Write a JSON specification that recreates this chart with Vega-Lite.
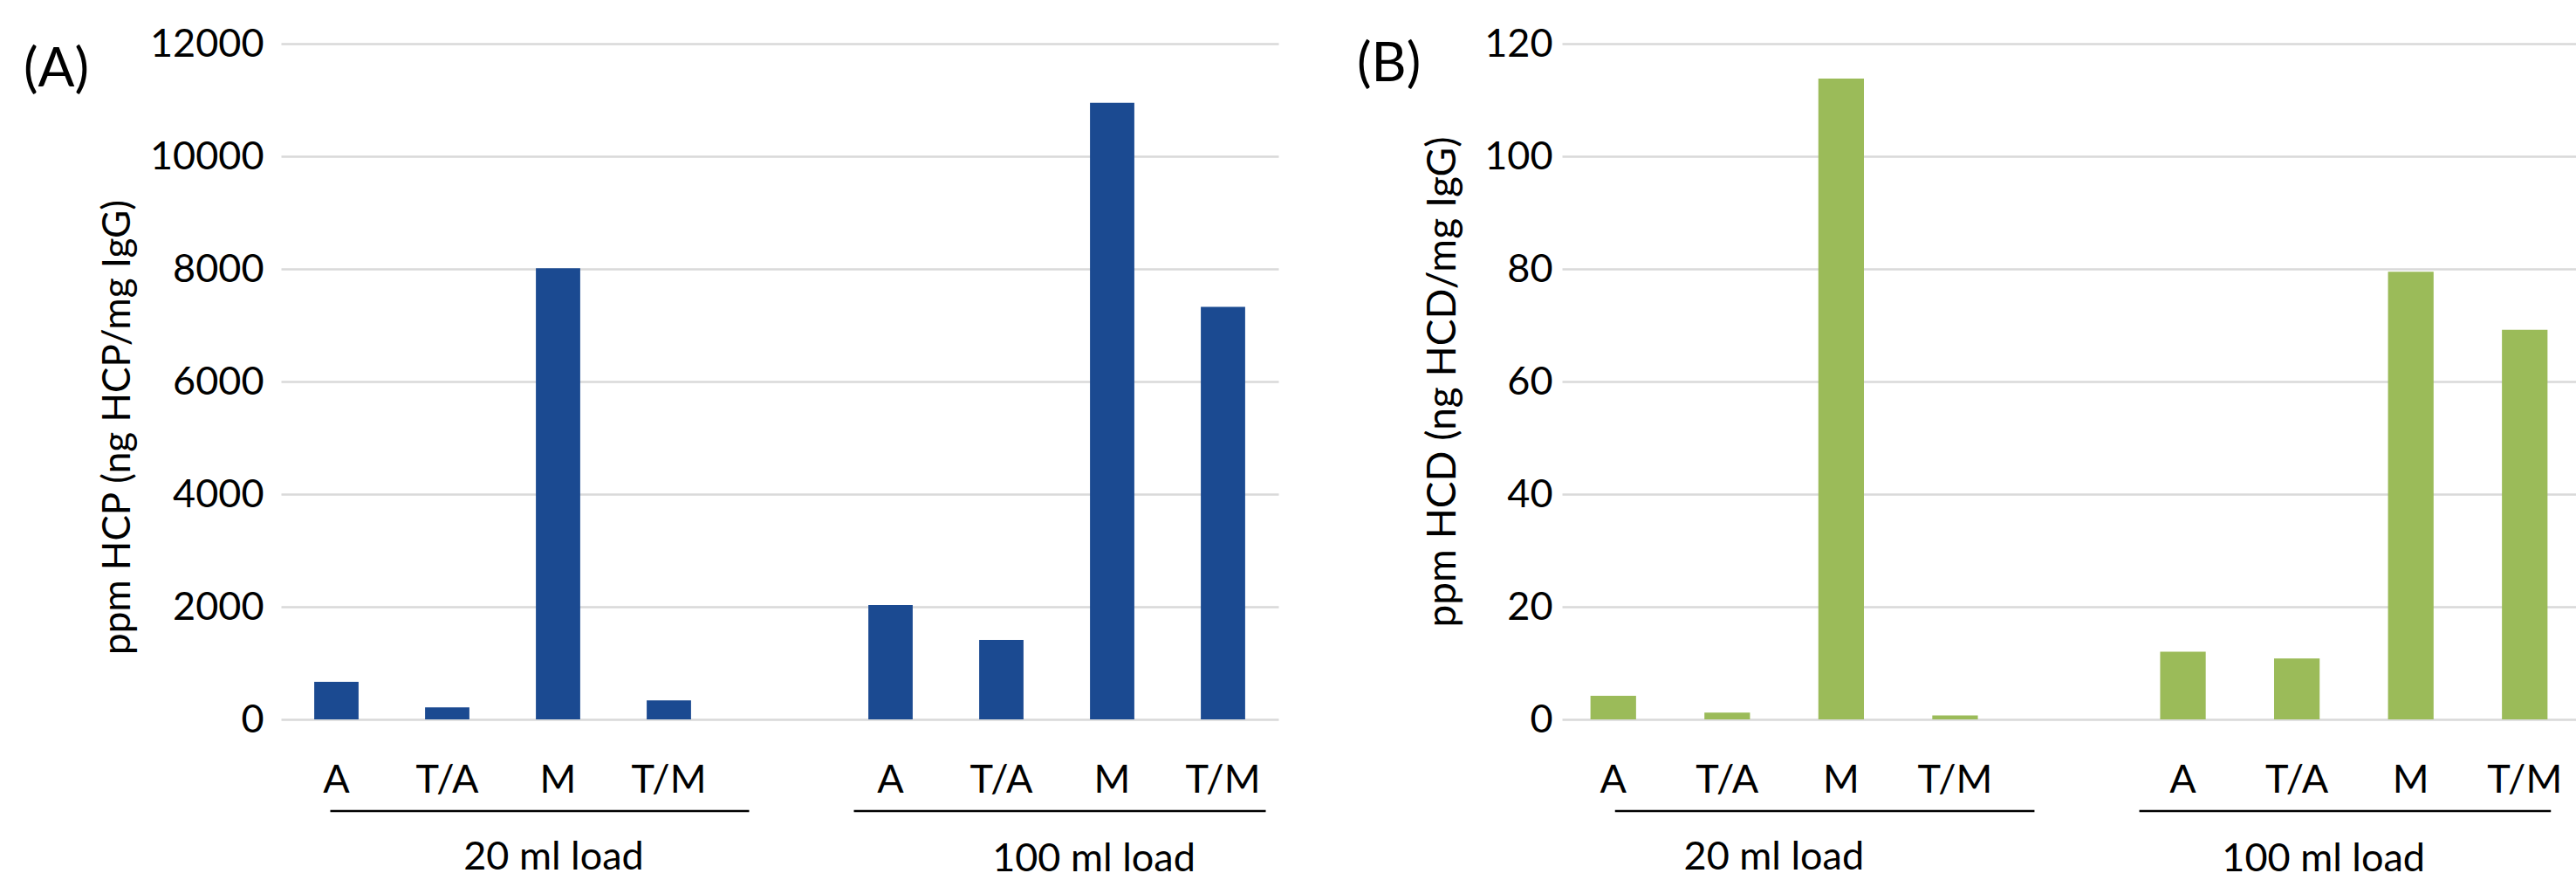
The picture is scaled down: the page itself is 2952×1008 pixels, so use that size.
{
  "$schema": "https://vega.github.io/schema/vega-lite/v6.json",
  "background": "white",
  "padding": {"left": 27, "top": 28, "right": 0, "bottom": 0},
  "config": {
    "font": "Lato",
    "view": {"stroke": null},
    "concat": {"spacing": 90},
    "title": {"fontSize": 62, "fontWeight": "normal", "color": "black", "anchor": "start", "frame": "group", "offset": 0},
    "text": {"color": "black", "fontSize": 45},
    "axisX": {"title": null, "domain": false, "ticks": false, "grid": false, "labelFontSize": 45, "labelPadding": 47, "labelColor": "black", "labelAngle": 0},
    "axisY": {"domain": false, "ticks": false, "grid": true, "gridColor": "#D9D9D9", "gridWidth": 2.5, "labelFontSize": 45, "labelColor": "black", "titleFontSize": 44, "titleFontWeight": "normal", "titleColor": "black"}
  },
  "datasets": {
    "hcp": [
      {"slot": "A|20", "load": "20 ml load", "column": "A", "ppm": 665},
      {"slot": "T/A|20", "load": "20 ml load", "column": "T/A", "ppm": 215},
      {"slot": "M|20", "load": "20 ml load", "column": "M", "ppm": 8010},
      {"slot": "T/M|20", "load": "20 ml load", "column": "T/M", "ppm": 338},
      {"slot": "A|100", "load": "100 ml load", "column": "A", "ppm": 2030},
      {"slot": "T/A|100", "load": "100 ml load", "column": "T/A", "ppm": 1410},
      {"slot": "M|100", "load": "100 ml load", "column": "M", "ppm": 10950},
      {"slot": "T/M|100", "load": "100 ml load", "column": "T/M", "ppm": 7325}
    ],
    "hcd": [
      {"slot": "A|20", "load": "20 ml load", "column": "A", "ppm": 4.2},
      {"slot": "T/A|20", "load": "20 ml load", "column": "T/A", "ppm": 1.2},
      {"slot": "M|20", "load": "20 ml load", "column": "M", "ppm": 113.8},
      {"slot": "T/M|20", "load": "20 ml load", "column": "T/M", "ppm": 0.7},
      {"slot": "A|100", "load": "100 ml load", "column": "A", "ppm": 12.0},
      {"slot": "T/A|100", "load": "100 ml load", "column": "T/A", "ppm": 10.8},
      {"slot": "M|100", "load": "100 ml load", "column": "M", "ppm": 79.5},
      {"slot": "T/M|100", "load": "100 ml load", "column": "T/M", "ppm": 69.2}
    ]
  },
  "hconcat": [
    {
      "width": 1143,
      "height": 774,
      "title": {"text": "(A)", "dx": -295, "dy": 88},
      "layer": [
        {
          "data": {"name": "hcp"},
          "mark": {"type": "bar", "color": "#1B4A91"},
          "encoding": {
            "x": {
              "field": "slot", "type": "nominal", "sort": null,
              "scale": {"domain": ["A|20", "T/A|20", "M|20", "T/M|20", "gap", "A|100", "T/A|100", "M|100", "T/M|100"], "paddingInner": 0.6, "paddingOuter": 0.3},
              "axis": {"labelExpr": "datum.value == 'gap' ? '' : split(datum.value, '|')[0]"}
            },
            "y": {
              "field": "ppm", "type": "quantitative",
              "scale": {"domain": [0, 12000], "nice": false},
              "axis": {"title": "ppm HCP (ng HCP/mg IgG)", "values": [0, 2000, 4000, 6000, 8000, 10000, 12000], "format": "d", "labelPadding": 20, "titlePadding": 14, "titleY": 439}
            }
          }
        },
        {
          "data": {"values": [{"load": "20 ml load"}]},
          "mark": {"type": "rule", "color": "black", "strokeWidth": 2.5, "yOffset": 105, "xOffset": -7, "x2Offset": 92},
          "encoding": {"x": {"datum": "A|20"}, "x2": {"datum": "T/M|20"}, "y": {"datum": 0}}
        },
        {
          "data": {"values": [{"load": "100 ml load"}]},
          "mark": {"type": "rule", "color": "black", "strokeWidth": 2.5, "yOffset": 105, "xOffset": -42, "x2Offset": 49},
          "encoding": {"x": {"datum": "A|100"}, "x2": {"datum": "T/M|100"}, "y": {"datum": 0}}
        },
        {
          "data": {"values": [{"load": "20 ml load"}]},
          "mark": {"type": "text", "baseline": "alphabetic", "dy": 172, "dx": -5},
          "encoding": {"x": {"datum": "M|20"}, "y": {"datum": 0}, "text": {"field": "load"}}
        },
        {
          "data": {"values": [{"load": "100 ml load"}]},
          "mark": {"type": "text", "baseline": "alphabetic", "dy": 174, "dx": -21},
          "encoding": {"x": {"datum": "M|100"}, "y": {"datum": 0}, "text": {"field": "load"}}
        }
      ]
    },
    {
      "width": 1162,
      "height": 774,
      "title": {"text": "(B)", "dx": -235, "dy": 82},
      "layer": [
        {
          "data": {"name": "hcd"},
          "mark": {"type": "bar", "color": "#9BBB59"},
          "encoding": {
            "x": {
              "field": "slot", "type": "nominal", "sort": null,
              "scale": {"domain": ["A|20", "T/A|20", "M|20", "T/M|20", "gap", "A|100", "T/A|100", "M|100", "T/M|100"], "paddingInner": 0.6, "paddingOuter": 0.25},
              "axis": {"labelExpr": "datum.value == 'gap' ? '' : split(datum.value, '|')[0]"}
            },
            "y": {
              "field": "ppm", "type": "quantitative",
              "scale": {"domain": [0, 120], "nice": false},
              "axis": {"title": "ppm HCD (ng HCD/mg IgG)", "values": [0, 20, 40, 60, 80, 100, 120], "format": "d", "labelPadding": 11, "titlePadding": 23, "titleFontSize": 46}
            }
          }
        },
        {
          "data": {"values": [{"load": "20 ml load"}]},
          "mark": {"type": "rule", "color": "black", "strokeWidth": 2.5, "yOffset": 105, "xOffset": 2, "x2Offset": 91},
          "encoding": {"x": {"datum": "A|20"}, "x2": {"datum": "T/M|20"}, "y": {"datum": 0}}
        },
        {
          "data": {"values": [{"load": "100 ml load"}]},
          "mark": {"type": "rule", "color": "black", "strokeWidth": 2.5, "yOffset": 105, "xOffset": -50, "x2Offset": 30},
          "encoding": {"x": {"datum": "A|100"}, "x2": {"datum": "T/M|100"}, "y": {"datum": 0}}
        },
        {
          "data": {"values": [{"load": "20 ml load"}]},
          "mark": {"type": "text", "baseline": "alphabetic", "dy": 172, "dx": -77},
          "encoding": {"x": {"datum": "M|20"}, "y": {"datum": 0}, "text": {"field": "load"}}
        },
        {
          "data": {"values": [{"load": "100 ml load"}]},
          "mark": {"type": "text", "baseline": "alphabetic", "dy": 174, "dx": -100},
          "encoding": {"x": {"datum": "M|100"}, "y": {"datum": 0}, "text": {"field": "load"}}
        }
      ]
    }
  ]
}
